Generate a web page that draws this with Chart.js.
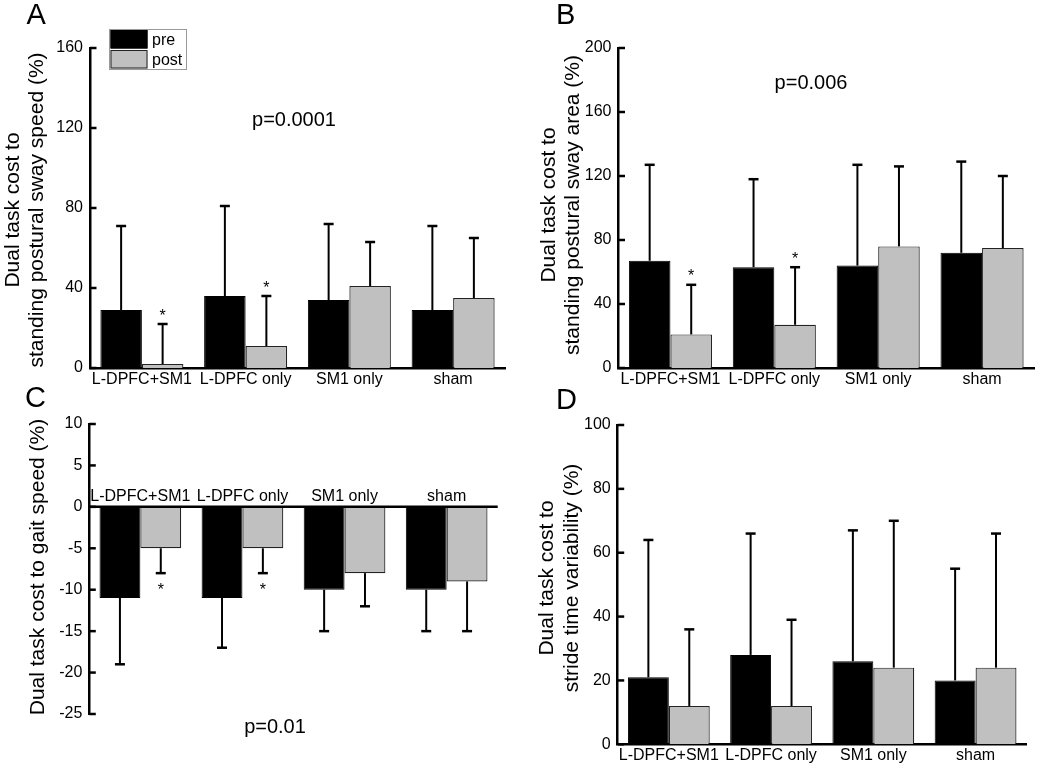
<!DOCTYPE html>
<html><head><meta charset="utf-8">
<script src="https://cdn.jsdelivr.net/npm/chart.js@4.4.0/dist/chart.umd.min.js"></script>
<style>
html,body{margin:0;padding:0;background:#fff;}
#wrap{position:relative;width:1050px;height:782px;overflow:hidden;background:#fff;}
canvas{position:absolute;left:0;top:0;}
</style></head><body>
<div id="wrap">
<canvas id="cA" width="1050" height="782"></canvas>
<canvas id="cB" width="1050" height="782"></canvas>
<canvas id="cC" width="1050" height="782"></canvas>
<canvas id="cD" width="1050" height="782"></canvas>
</div>
<script>
// ---------------- data ----------------
const categories = ['L-DPFC+SM1', 'L-DPFC only', 'SM1 only', 'sham'];
const seriesNames = ['pre', 'post'];

// Panel A: standing postural sway speed
const preA = [29, 36, 34, 29];
const preSdA = [42, 45, 38, 42];
const postA = [2, 11, 41, 35];
const postSdA = [20, 25, 22, 30];
const sigA = [true, true, false, false];
const ticksA = [0, 40, 80, 120, 160];
const titleA = ['Dual task cost to', 'standing postural sway speed (%)'];
const pA = 'p=0.0001';

// Panel B: standing postural sway area
const preB = [67, 63, 64, 72];
const preSdB = [60, 55, 63, 57];
const postB = [21, 27, 76, 75];
const postSdB = [31, 36, 50, 45];
const sigB = [true, true, false, false];
const ticksB = [0, 40, 80, 120, 160, 200];
const titleB = ['Dual task cost to', 'standing postural sway area (%)'];
const pB = 'p=0.006';

// Panel C: gait speed
const preC = [-11, -11, -10, -10];
const preSdC = [8, 6, 5, 5];
const postC = [-5, -5, -8, -9];
const postSdC = [3, 3, 4, 6];
const sigC = [true, true, false, false];
const ticksC = [-25, -20, -15, -10, -5, 0, 5, 10];
const titleC = ['Dual task cost to gait speed (%)'];
const pC = 'p=0.01';

// Panel D: stride time variability
const preD = [21, 28, 26, 20];
const preSdD = [43, 38, 41, 35];
const postD = [12, 12, 24, 24];
const postSdD = [24, 27, 46, 42];
const sigD = [false, false, false, false];
const ticksD = [0, 20, 40, 60, 80, 100];
const titleD = ['Dual task cost to', 'stride time variability (%)'];

// ---------------- styling ----------------
const FONT = '"Liberation Sans", Arial, Helvetica, sans-serif';
Chart.defaults.font.family = FONT;
Chart.defaults.font.size = 16;
Chart.defaults.color = '#000';
const PRE_COLOR = '#000000';
const POST_COLOR = '#c0c0c0';

const decor = {
  id: 'decor',
  afterDatasetsDraw(chart, args, o) {
    const ctx = chart.ctx, ys = chart.scales.y;
    ctx.save();
    chart.data.datasets.forEach((ds, di) => {
      const meta = chart.getDatasetMeta(di);
      meta.data.forEach((bar, i) => {
        const v = ds.data[i], sd = ds.errors[i];
        const dir = v >= 0 ? 1 : -1;
        const ye = ys.getPixelForValue(v + dir * sd);
        ctx.strokeStyle = '#000';
        ctx.lineWidth = 2;
        ctx.beginPath(); ctx.moveTo(bar.x, bar.y); ctx.lineTo(bar.x, ye); ctx.stroke();
        ctx.lineWidth = 2.5;
        ctx.beginPath(); ctx.moveTo(bar.x - 5, ye); ctx.lineTo(bar.x + 5, ye); ctx.stroke();
        if (ds.sig && ds.sig[i]) {
          const yc = ye - dir * 12.5;
          ctx.fillStyle = '#000';
          ctx.font = '16px ' + FONT;
          ctx.textAlign = 'center';
          ctx.textBaseline = 'alphabetic';
          ctx.fillText('*', bar.x, yc + 9);
        }
      });
    });
    ctx.restore();
  },
  afterDraw(chart, args, o) {
    const ctx = chart.ctx, ys = chart.scales.y, xs = chart.scales.x, ca = chart.chartArea;
    ctx.save();
    ctx.fillStyle = '#000';
    ctx.strokeStyle = '#000';
    // inward tick marks on y axis
    ctx.lineWidth = 2.5;
    ys.ticks.forEach(t => {
      const py = ys.getPixelForValue(t.value);
      ctx.beginPath(); ctx.moveTo(ca.left, py); ctx.lineTo(ca.left + 6.5, py); ctx.stroke();
    });
    // zero axis with labels above (panel C)
    if (o.zeroAxis) {
      const y0 = ys.getPixelForValue(0);
      ctx.lineWidth = 2.5;
      ctx.beginPath(); ctx.moveTo(ca.left, y0); ctx.lineTo(ca.right, y0); ctx.stroke();
      ctx.font = '16px ' + FONT;
      ctx.textAlign = 'center';
      ctx.textBaseline = 'alphabetic';
      chart.data.labels.forEach((lab, i) => {
        ctx.fillText(lab, xs.getPixelForValue(i), y0 - 6);
      });
    }
    // y axis title (rotated)
    if (o.yTitle) {
      ctx.font = '21px ' + FONT;
      ctx.textAlign = 'center';
      ctx.textBaseline = 'alphabetic';
      o.yTitle.lines.forEach((line, i) => {
        ctx.save();
        ctx.translate(o.yTitle.x[i], o.yTitle.yc);
        ctx.rotate(-Math.PI / 2);
        ctx.fillText(line, 0, 0);
        ctx.restore();
      });
    }
    // free texts
    (o.texts || []).forEach(t => {
      ctx.font = t.size + 'px ' + FONT;
      ctx.textAlign = t.align || 'left';
      ctx.textBaseline = 'alphabetic';
      ctx.fillText(t.text, t.x, t.y);
    });
    // legend box
    if (o.legend) {
      const L = o.legend;
      ctx.lineWidth = 1;
      ctx.strokeStyle = '#9a9a9a';
      ctx.strokeRect(L.x + 0.5, L.y + 0.5, L.w, L.h);
      chart.data.datasets.forEach((ds, i) => {
        const ry = L.y + 1 + i * 20;
        ctx.fillStyle = ds.backgroundColor;
        ctx.fillRect(L.x + 1.5, ry, 37, 18.5);
        ctx.strokeStyle = ds.borderColor;
        ctx.lineWidth = 1;
        ctx.strokeRect(L.x + 2, ry + 0.5, 36, 17.5);
        ctx.fillStyle = '#000';
        ctx.font = '16px ' + FONT;
        ctx.textAlign = 'left';
        ctx.textBaseline = 'alphabetic';
        ctx.fillText(ds.label, L.x + 43, ry + 14.5);
      });
    }
    ctx.restore();
  }
};

function makeChart(id, cfg) {
  const datasets = [
    { label: seriesNames[0], data: cfg.pre, errors: cfg.preSd, backgroundColor: PRE_COLOR, borderColor: '#000', borderWidth: 1 },
    { label: seriesNames[1], data: cfg.post, errors: cfg.postSd, sig: cfg.sig, backgroundColor: POST_COLOR, borderColor: '#222', borderWidth: 1.2 }
  ];
  const tk = cfg.ticks;
  return new Chart(document.getElementById(id), {
    type: 'bar',
    data: { labels: categories, datasets },
    plugins: [decor],
    options: {
      responsive: false,
      animation: false,
      events: [],
      devicePixelRatio: 1,
      datasets: { bar: { categoryPercentage: 0.8, barPercentage: 1.0, borderSkipped: 'start' } },
      layout: { padding: cfg.padding },
      plugins: {
        legend: { display: false },
        tooltip: { enabled: false },
        decor: { yTitle: cfg.yTitle, texts: cfg.texts, legend: cfg.legend, zeroAxis: cfg.zeroAxis }
      },
      scales: {
        x: {
          display: !cfg.zeroAxis,
          grid: { display: false, drawTicks: false, tickLength: 0 },
          border: { display: true, color: '#000', width: 2.5 },
          ticks: { font: { size: 16 }, color: '#000', padding: 2, maxRotation: 0, minRotation: 0, autoSkip: false },
          afterFit: s => { s.height = 30; }
        },
        y: {
          min: tk[0], max: tk[tk.length - 1],
          grid: { display: false, drawTicks: false, tickLength: 0 },
          border: { display: true, color: '#000', width: 2.5 },
          ticks: { stepSize: tk[1] - tk[0], font: { size: 16 }, color: '#000', padding: 7 },
          afterFit: s => { s.width = 60; }
        }
      }
    }
  });
}

makeChart('cA', {
  pre: preA, preSd: preSdA, post: postA, postSd: postSdA, sig: sigA, ticks: ticksA,
  padding: { left: 30, top: 48, right: 545, bottom: 384 },
  yTitle: { lines: titleA, x: [18.5, 42.5], yc: 210 },
  texts: [{ text: 'A', x: 26.5, y: 24, size: 29 }, { text: pA, x: 294, y: 126, size: 20, align: 'center' }],
  legend: { x: 109, y: 29, w: 77, h: 40 }
});
makeChart('cB', {
  pre: preB, preSd: preSdB, post: postB, postSd: postSdB, sig: sigB, ticks: ticksB,
  padding: { left: 558.5, top: 48, right: 16, bottom: 384 },
  yTitle: { lines: titleB, x: [555, 579], yc: 205 },
  texts: [{ text: 'B', x: 556, y: 24, size: 29 }, { text: pB, x: 811, y: 89, size: 20, align: 'center' }]
});
makeChart('cC', {
  pre: preC, preSd: preSdC, post: postC, postSd: postSdC, sig: sigC, ticks: ticksC,
  padding: { left: 29.3, top: 424, right: 552.3, bottom: 38 },
  yTitle: { lines: titleC, x: [43.5], yc: 567 },
  texts: [{ text: 'C', x: 25, y: 406.5, size: 29 }, { text: pC, x: 275, y: 733, size: 20, align: 'center' }],
  zeroAxis: true
});
makeChart('cD', {
  pre: preD, preSd: preSdD, post: postD, postSd: postSdD, sig: sigD, ticks: ticksD,
  padding: { left: 557.7, top: 425, right: 23.3, bottom: 7.7 },
  yTitle: { lines: titleD, x: [553, 578], yc: 578 },
  texts: [{ text: 'D', x: 556, y: 408.5, size: 29 }]
});
</script>
</body></html>
